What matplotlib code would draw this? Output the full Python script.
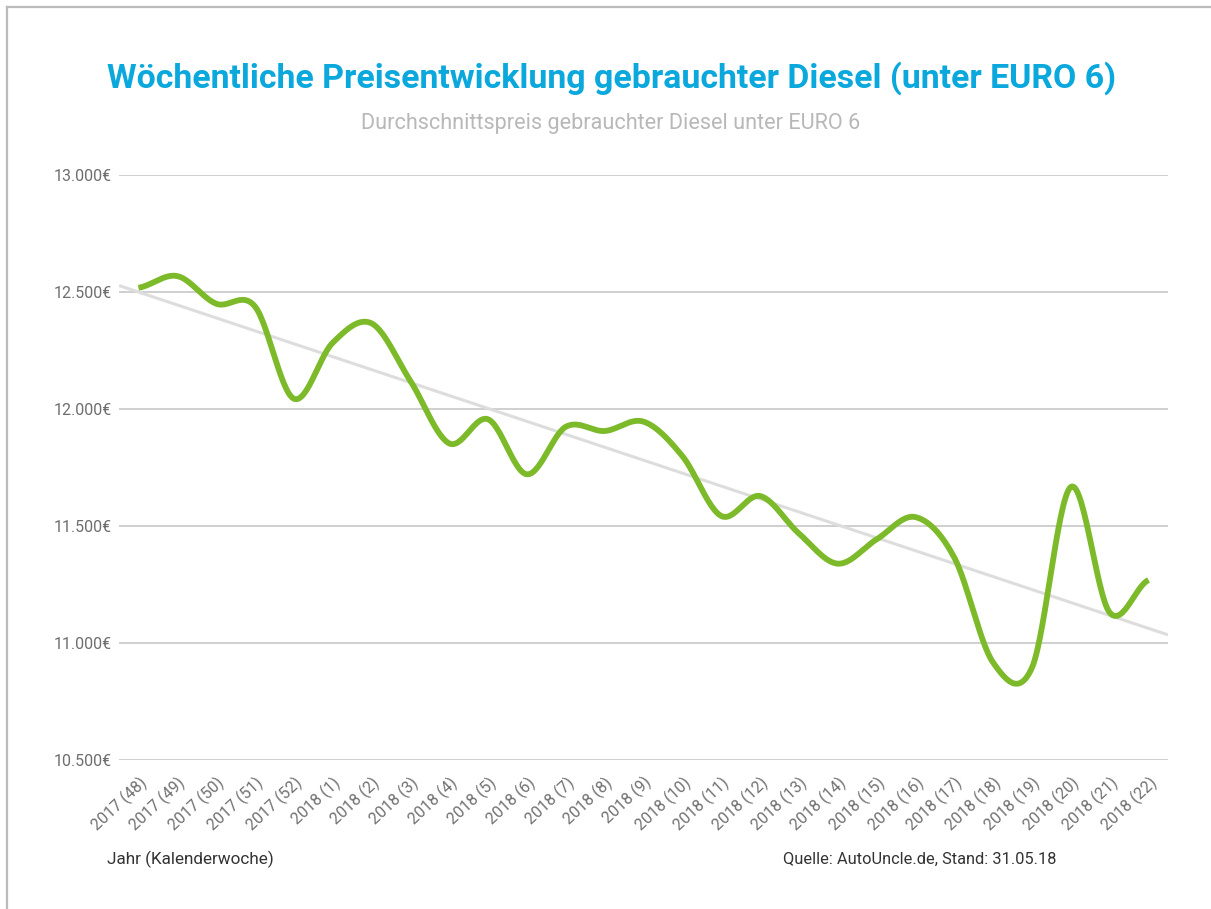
import matplotlib.pyplot as plt
import numpy as np
from matplotlib.ticker import FuncFormatter
from matplotlib.transforms import ScaledTranslation

# Weekly average price of used diesels (below EURO 6)
weeks = ["2017 (48)", "2017 (49)", "2017 (50)", "2017 (51)", "2017 (52)"] + \
        ["2018 (%d)" % w for w in range(1, 23)]
prices = [12518, 12568, 12450, 12438, 12044, 12283, 12366, 12120, 11853,
          11956, 11721, 11924, 11906, 11946, 11799, 11543, 11628, 11468,
          11339, 11443, 11538, 11365, 10916, 10895, 11667, 11130, 11269]
yticks = [10500, 11000, 11500, 12000, 12500, 13000]

plt.rcParams['font.family'] = ['Roboto', 'DejaVu Sans']

W, H = 1211, 909
fig = plt.figure(figsize=(W / 100, H / 100), dpi=100)
fig.patch.set_facecolor('white')

# thin frame on top and left like the screenshot
fig.add_artist(plt.Line2D([6.5 / W, 6.5 / W], [0, 1 - 6.5 / H], color='#bbbbbb', lw=1.6))
fig.add_artist(plt.Line2D([6.5 / W, 1], [1 - 6.5 / H, 1 - 6.5 / H], color='#bbbbbb', lw=1.6))

ax = fig.add_axes([119 / W, 1 - 760 / H, (1168 - 119) / W, (760 - 175) / H])
x = np.arange(len(prices))
y = np.array(prices, dtype=float)

# smooth curve through the points (cardinal spline)
def smooth(x, y, n=30, k=0.5):
    yp = np.concatenate([[y[0]], y, [y[-1]]])
    xs, ys = [], []
    for i in range(len(y) - 1):
        m0 = k * (yp[i + 2] - yp[i])
        m1 = k * (yp[i + 3] - yp[i + 1])
        t = np.linspace(0, 1, n, endpoint=False)
        h00 = 2 * t**3 - 3 * t**2 + 1
        h10 = t**3 - 2 * t**2 + t
        h01 = -2 * t**3 + 3 * t**2
        h11 = t**3 - t**2
        xs.append(x[i] + t)
        ys.append(h00 * y[i] + h10 * m0 + h01 * y[i + 1] + h11 * m1)
    xs.append([x[-1]])
    ys.append([y[-1]])
    return np.concatenate(xs), np.concatenate(ys)

for v in yticks:
    ax.axhline(v, color='#cccccc', lw=1.3, zorder=1)

# linear trend line
coef = np.polyfit(x, y, 1)
tx = np.array([-0.5, len(prices) - 0.5])
ax.plot(tx, np.polyval(coef, tx), color='#dddddd', lw=2.2, zorder=2, solid_capstyle='butt')

sx, sy = smooth(x, y)
ax.plot(sx, sy, color='#7dba2a', lw=4.2, zorder=3, solid_capstyle='butt')

ax.set_xlim(-0.5, len(prices) - 0.5)
ax.set_ylim(10500, 13000)
ax.set_yticks(yticks)
ax.yaxis.set_major_formatter(FuncFormatter(lambda v, p: f"{int(v):,}€".replace(',', '.')))
ax.set_xticks(x)
ax.set_xticklabels(weeks, rotation=43, ha='right', va='top', rotation_mode='anchor')
shift = ScaledTranslation(10 / 100, 0, fig.dpi_scale_trans)
for lab in ax.get_xticklabels():
    lab.set_transform(lab.get_transform() + shift)
ax.tick_params(axis='y', length=0, labelsize=11.5, labelcolor='#6e6e6e', pad=5)
ax.tick_params(axis='x', length=0, labelsize=11.5, labelcolor='#707070', pad=10)
for s in ax.spines.values():
    s.set_visible(False)

fig.text(612 / W, 1 - 88 / H, "Wöchentliche Preisentwicklung gebrauchter Diesel (unter EURO 6)",
         ha='center', va='baseline', fontsize=24.4, fontweight='bold', color='#0aa8dc')
fig.text(611 / W, 1 - 129 / H, "Durchschnittspreis gebrauchter Diesel unter EURO 6",
         ha='center', va='baseline', fontsize=15.6, color='#b8b8b8')
fig.text(107 / W, 1 - 864 / H, "Jahr (Kalenderwoche)", ha='left', va='baseline',
         fontsize=12.3, color='#333333')
fig.text(783 / W, 1 - 864 / H, "Quelle: AutoUncle.de, Stand: 31.05.18", ha='left', va='baseline',
         fontsize=11.8, color='#333333')

fig.savefig('out.png', dpi=100, facecolor='white')
